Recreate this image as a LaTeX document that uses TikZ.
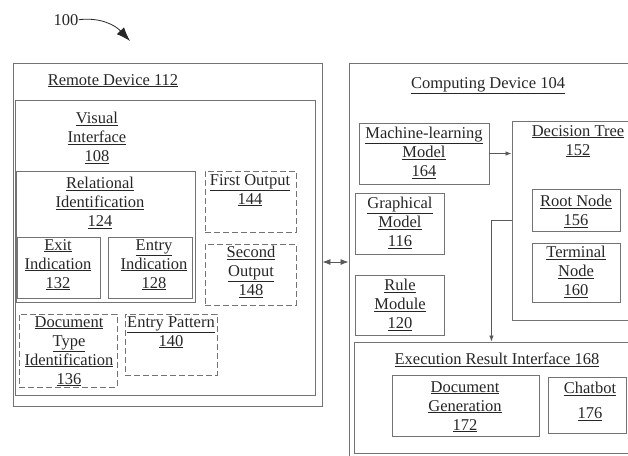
\documentclass[tikz,border=0pt]{standalone}
\usepackage{fontspec}
\setmainfont{Liberation Serif}
\usetikzlibrary{arrows.meta,fit}

\newcommand{\ul}[1]{\underline{#1}}

\begin{document}
\begin{tikzpicture}[x=1pt,y=-1pt,>={Latex[length=6pt,width=4.5pt]},
    every node/.style={font=\fontsize{16.5}{19}\selectfont, text=black!85},
    box/.style={draw=black!55, line width=0.9pt, inner sep=0pt},
    dbox/.style={box, dash pattern=on 6pt off 3pt},
    lbl/.style={anchor=north, align=center, inner sep=0pt},
    conn/.style={draw=black!65, line width=0.8pt}]
        \useasboundingbox (0,0) rectangle (628,455);
        \clip (0,0) rectangle (628,455);
        % reference numeral
        \node[lbl] (n100) at (66,14) {100};
        \coordinate (tip100) at (130,41);
        \draw[conn, draw=black!85, -{Latex[length=14pt,width=10pt]}] (n100.east) .. controls (100,17) and (115,25) .. (tip100);
        % remote device
        \node[box, fit={(13,63) (322,406)}] (RD) {};
        \node[lbl] (RDt) at (113,74) {\ul{Remote Device 112}};
        \node[box, fit={(15,100) (315,395)}] (VI) {};
        \node[lbl] (VIt) at (97,112) {\ul{Visual}\\\ul{Interface}\\\ul{108}};
        \node[box, fit={(16,171) (195,302)}] (RI) {};
        \node[lbl] (RIt) at (100,177) {\ul{Relational}\\\ul{Identification}\\\ul{124}};
        \node[box, fit={(17,237) (100,298)}] (EX) {};
        \node[lbl] (EXt) at (58,239) {\ul{Exit}\\\ul{Indication}\\\ul{132}};
        \node[box, fit={(108,237) (192,298)}] (EN) {};
        \node[lbl] (ENt) at (154,239) {\ul{Entry}\\\ul{Indication}\\\ul{128}};
        \node[dbox, fit={(205,171) (296,232)}] (FO) {};
        \node[lbl] (FOt) at (250,174) {\ul{First Output}\\\ul{144}};
        \node[dbox, fit={(205,244) (296,305)}] (SO) {};
        \node[lbl] (SOt) at (251,246) {\ul{Second}\\\ul{Output}\\\ul{148}};
        \node[dbox, fit={(19,314) (117,387)}] (DTI) {};
        \node[lbl] (DTIt) at (69,316) {\ul{Document}\\\ul{Type}\\\ul{Identification}\\\ul{136}};
        \node[dbox, fit={(125,314) (217,375)}] (EP) {};
        \node[lbl] (EPt) at (171,316) {\ul{Entry Pattern}\\\ul{140}};
        % computing device
        \node[box, fit={(349,63) (640,461)}] (CD) {};
        \node[lbl] (CDt) at (488,77) {\ul{Computing Device 104}};
        \node[box, fit={(359,123) (489,184)}] (ML) {};
        \node[lbl] (MLt) at (424,127) {\ul{Machine-learning}\\\ul{Model}\\\ul{164}};
        \node[box, fit={(512,121) (640,320)}] (DT) {};
        \node[lbl] (DTt) at (578,125) {\ul{Decision Tree}\\\ul{152}};
        \node[box, fit={(355,193) (444,254)}] (GM) {};
        \node[lbl] (GMt) at (400,197) {\ul{Graphical}\\\ul{Model}\\\ul{116}};
        \node[box, fit={(532,189) (620,231)}] (RN) {};
        \node[lbl] (RNt) at (576,195) {\ul{Root Node}\\\ul{156}};
        \node[box, fit={(532,243) (620,302)}] (TN) {};
        \node[lbl] (TNt) at (576,246) {\ul{Terminal}\\\ul{Node}\\\ul{160}};
        \node[box, fit={(355,275) (444,335)}] (RM) {};
        \node[lbl] (RMt) at (400,279) {\ul{Rule}\\\ul{Module}\\\ul{120}};
        \node[box, fit={(354,342) (640,453)}] (ER) {};
        \node[lbl] (ERt) at (497,353) {\ul{Execution Result Interface 168}};
        \node[box, fit={(392,375) (539,436)}] (DG) {};
        \node[lbl] (DGt) at (465,381) {\ul{Document}\\\ul{Generation}\\\ul{172}};
        \node[box, fit={(548,377) (626,433)}] (CB) {};
        \node[lbl] (CBt) at (590,382) {\ul{Chatbot}\\[6pt]\ul{176}};
        % connectors
        \draw[conn, ->] (ML.east) -- (ML.east -| DT.west);
        \draw[conn, ->] (DT.west) -| ([xshift=2pt]ML.east |- ER.north);
        \draw[conn, {Latex[length=8pt,width=6pt]}-{Latex[length=8pt,width=6pt]}] (RD.east |- CD.west) -- (CD.west);
\end{tikzpicture}
\end{document}
